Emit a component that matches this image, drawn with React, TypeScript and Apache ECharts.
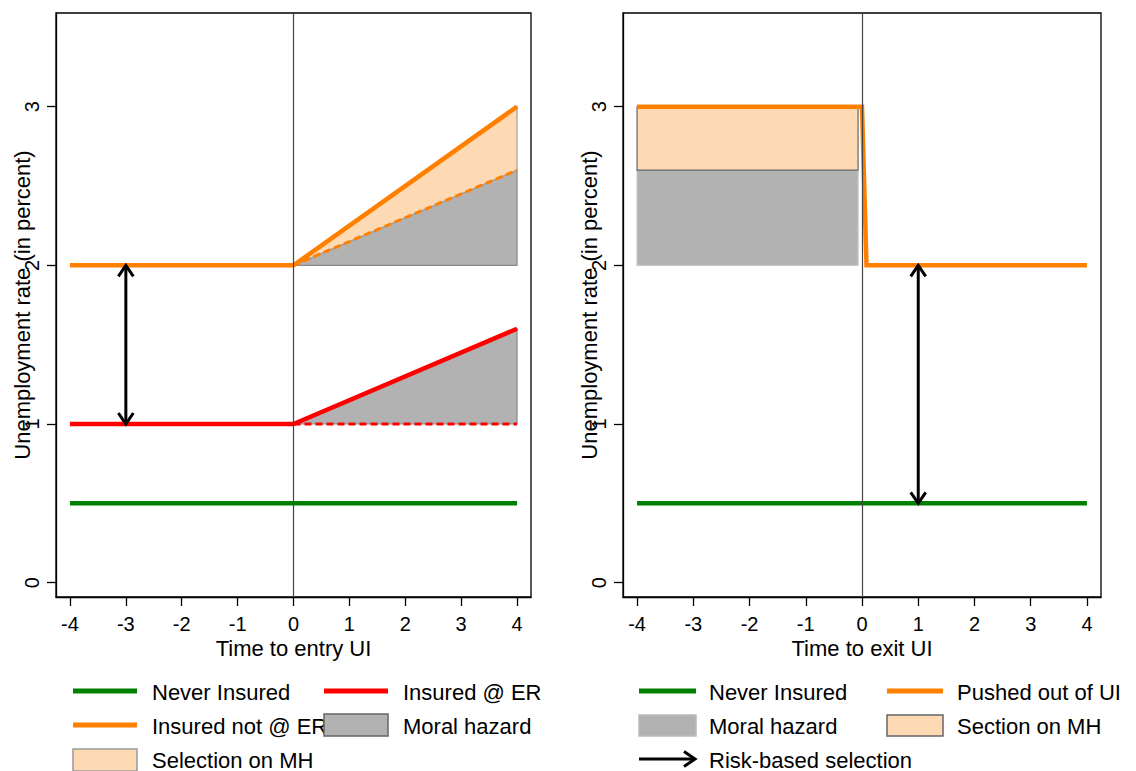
import React, { useEffect, useRef } from "react";
import * as echarts from "echarts";

// ---------- data ----------
const xTicks = [-4, -3, -2, -1, 0, 1, 2, 3, 4];
const yTicks = [0, 1, 2, 3];

// Left panel: time to entry UI
const leftNeverInsured = [[-4, 0.5], [4, 0.5]];
const leftInsuredAtER = [[-4, 1], [0, 1], [4, 1.6]];
const leftInsuredNotAtER = [[-4, 2], [0, 2], [4, 3]];
const leftERCounterfactual = [[0, 1], [4, 1]];
const leftNotERCounterfactual = [[0, 2], [4, 2.6]];
const leftMoralHazard = [
  [[0, 1], [4, 1], [4, 1.6]],
  [[0, 2], [4, 2], [4, 2.6]],
];
const leftSelection = [[[0, 2], [4, 2.6], [4, 3]]];
const leftArrows = [[-3, 1, -3, 2]];

// Right panel: time to exit UI
const rightNeverInsured = [[-4, 0.5], [4, 0.5]];
const rightPushedOut = [[-4, 3], [0, 3], [0.08, 2], [4, 2]];
const rightMoralHazard = [[[-4, 2], [-0.07, 2], [-0.07, 2.6], [-4, 2.6]]];
const rightSelection = [[[-4, 2.6], [-0.07, 2.6], [-0.07, 3], [-4, 3]]];
const rightArrows = [[1, 0.5, 1, 2]];

const leftLegendLabels = ["Never Insured", "Insured @ ER", "Insured not @ ER", "Moral hazard", "Selection on MH"];
const rightLegendLabels = ["Never Insured", "Pushed out of UI", "Moral hazard", "Section on MH", "Risk-based selection"];

// ---------- styles ----------
const GREEN = "#008000";
const RED = "#ff0000";
const ORANGE = "#ff8000";
const PEACH = "#fdd9b4";
const GRAY = "#b2b2b2";
const FONT = "'Liberation Sans', Arial, sans-serif";

const polyRender = (polys: number[][][], fill: string, stroke: string) => (params: any, api: any) => {
  const pts = polys[params.dataIndex].map((p) => api.coord(p));
  return { type: "polygon", shape: { points: pts }, style: { fill, stroke, lineWidth: 1.2 } };
};

const arrowRender = (params: any, api: any) => {
  const p1 = api.coord([api.value(0), api.value(1)]);
  const p2 = api.coord([api.value(2), api.value(3)]);
  const dx = p2[0] - p1[0];
  const dy = p2[1] - p1[1];
  const L = Math.hypot(dx, dy) || 1;
  const ux = dx / L, uy = dy / L;
  const nx = -uy, ny = ux;
  const head = 11, half = 7.5;
  const chev = (tip: number[], dx2: number, dy2: number) => [
    [tip[0] - dx2 * head + nx * half, tip[1] - dy2 * head + ny * half],
    tip,
    [tip[0] - dx2 * head - nx * half, tip[1] - dy2 * head - ny * half],
  ];
  const st = { stroke: "#000", lineWidth: 3, fill: null };
  return {
    type: "group",
    children: [
      { type: "line", shape: { x1: p1[0], y1: p1[1], x2: p2[0], y2: p2[1] }, style: st },
      { type: "polyline", shape: { points: chev(p2, ux, uy) }, style: st },
      { type: "polyline", shape: { points: chev(p1, -ux, -uy) }, style: st },
    ],
  };
};

const makeX = (gridIndex: number, name: string) => ({
  type: "value",
  gridIndex,
  min: -4.25,
  max: 4.25,
  axisLine: { show: true, onZero: false, lineStyle: { color: "#000", width: 1.3 } },
  axisTick: { show: true, length: 9, customValues: xTicks, lineStyle: { color: "#000", width: 1.3 } },
  axisLabel: { customValues: xTicks, fontSize: 20, color: "#000", fontFamily: FONT, margin: 17 },
  splitLine: { show: false },
  name,
  nameLocation: "middle",
  nameGap: 40,
  nameMoveOverlap: false,
  nameTextStyle: { fontSize: 22, color: "#000", fontFamily: FONT },
});

const makeY = (gridIndex: number) => ({
  type: "value",
  gridIndex,
  min: -0.09,
  max: 3.59,
  axisLine: { show: true, onZero: false, lineStyle: { color: "#000", width: 1.3 } },
  axisTick: { show: true, length: 9, customValues: yTicks, lineStyle: { color: "#000", width: 1.3 } },
  axisLabel: { customValues: yTicks, fontSize: 20, color: "#000", fontFamily: FONT, margin: 14, rotate: 90 },
  splitLine: { show: false },
  name: "Unemployment rate (in percent)",
  nameLocation: "middle",
  nameRotate: 90,
  nameGap: 23,
  nameMoveOverlap: false,
  nameTextStyle: { fontSize: 22, color: "#000", fontFamily: FONT },
});

const lineSeries = (name: string, data: number[][], color: string, g: number, dashed = false, extra: any = {}) => ({
  type: "line",
  name,
  xAxisIndex: g,
  yAxisIndex: g,
  data,
  symbol: "none",
  z: dashed ? 3 : 4,
  lineStyle: dashed
    ? { color, width: 3, type: [7, 4] }
    : { color, width: 4.5, cap: "butt", join: "miter" },
  ...extra,
});

const vline = {
  markLine: {
    silent: true,
    symbol: "none",
    label: { show: false },
    lineStyle: { color: "#444", width: 1.2, type: "solid" },
    data: [{ xAxis: 0 }],
  },
};

const textEl = (x: number, y: number, text: string) => ({
  type: "text",
  x,
  y,
  style: { text, fontSize: 22, fontFamily: FONT, fill: "#000", align: "left", verticalAlign: "middle" },
});
const lineEl = (x1: number, x2: number, y: number, color: string) => ({
  type: "line",
  shape: { x1, y1: y, x2, y2: y },
  style: { stroke: color, lineWidth: 5 },
});
const rectEl = (x: number, y: number, w: number, h: number, fill: string, stroke: string) => ({
  type: "rect",
  shape: { x, y, width: w, height: h },
  style: { fill, stroke, lineWidth: 1.5 },
});

export default function App() {
  const ref = useRef<HTMLDivElement>(null);
  useEffect(() => {
    if (!ref.current) return;
    const chart = echarts.init(ref.current, null, { renderer: "svg" });
    const option: any = {
      animation: false,
      backgroundColor: "#fff",
      grid: [
        { left: 56, top: 13, width: 475, height: 584, show: true, borderColor: "#000", borderWidth: 1.3 },
        { left: 623, top: 13, width: 478, height: 584, show: true, borderColor: "#000", borderWidth: 1.3 },
      ],
      xAxis: [makeX(0, "Time to entry UI"), makeX(1, "Time to exit UI")],
      yAxis: [makeY(0), makeY(1)],
      series: [
        // left panel
        {
          type: "custom", name: "Moral hazard", xAxisIndex: 0, yAxisIndex: 0, z: 1,
          data: leftMoralHazard.map((_, i) => [i]),
          renderItem: polyRender(leftMoralHazard, GRAY, "#8a8a8a"),
        },
        {
          type: "custom", name: "Selection on MH", xAxisIndex: 0, yAxisIndex: 0, z: 2,
          data: leftSelection.map((_, i) => [i]),
          renderItem: polyRender(leftSelection, PEACH, "#a0a0a0"),
        },
        lineSeries("Insured @ ER counterfactual", leftERCounterfactual, RED, 0, true),
        lineSeries("Insured not @ ER counterfactual", leftNotERCounterfactual, ORANGE, 0, true),
        lineSeries("Never Insured", leftNeverInsured, GREEN, 0, false, vline),
        lineSeries("Insured @ ER", leftInsuredAtER, RED, 0),
        lineSeries("Insured not @ ER", leftInsuredNotAtER, ORANGE, 0),
        {
          type: "custom", name: "Risk-based selection", xAxisIndex: 0, yAxisIndex: 0, z: 5,
          data: leftArrows, renderItem: arrowRender,
        },
        // right panel
        {
          type: "custom", name: "Moral hazard R", xAxisIndex: 1, yAxisIndex: 1, z: 1,
          data: rightMoralHazard.map((_, i) => [i]),
          renderItem: polyRender(rightMoralHazard, GRAY, "#c4c4c4"),
        },
        {
          type: "custom", name: "Section on MH", xAxisIndex: 1, yAxisIndex: 1, z: 2,
          data: rightSelection.map((_, i) => [i]),
          renderItem: polyRender(rightSelection, PEACH, "#666"),
        },
        lineSeries("Never Insured R", rightNeverInsured, GREEN, 1, false, vline),
        lineSeries("Pushed out of UI", rightPushedOut, ORANGE, 1),
        {
          type: "custom", name: "Risk-based selection R", xAxisIndex: 1, yAxisIndex: 1, z: 5,
          data: rightArrows, renderItem: arrowRender,
        },
      ],
      graphic: [
        // left legend
        lineEl(73, 137, 691, GREEN), textEl(152, 692, leftLegendLabels[0]),
        lineEl(324, 388, 691, RED), textEl(403, 692, leftLegendLabels[1]),
        lineEl(73, 137, 725, ORANGE), textEl(152, 726, leftLegendLabels[2]),
        rectEl(324, 714, 64, 22, GRAY, "#666"), textEl(403, 726, leftLegendLabels[3]),
        rectEl(73, 749, 64, 22, PEACH, "#999"), textEl(152, 760, leftLegendLabels[4]),
        // right legend
        lineEl(639, 696, 691, GREEN), textEl(709, 692, rightLegendLabels[0]),
        lineEl(887, 943, 691, ORANGE), textEl(957, 692, rightLegendLabels[1]),
        rectEl(639, 715, 57, 21, GRAY, "#bbb"), textEl(709, 726, rightLegendLabels[2]),
        rectEl(887, 715, 56, 21, PEACH, "#666"), textEl(957, 726, rightLegendLabels[3]),
        { type: "line", shape: { x1: 639, y1: 759, x2: 695, y2: 759 }, style: { stroke: "#000", lineWidth: 3 } },
        { type: "polyline", shape: { points: [[684, 751.5], [695, 759], [684, 766.5]] }, style: { stroke: "#000", lineWidth: 3, fill: null } },
        textEl(709, 760, rightLegendLabels[4]),
      ],
    };
    chart.setOption(option);
    return () => chart.dispose();
  }, []);
  return (
    <div
      ref={ref}
      style={{ position: "absolute", left: 0, top: 0, width: 1136, height: 771, background: "#fff" }}
    />
  );
}
